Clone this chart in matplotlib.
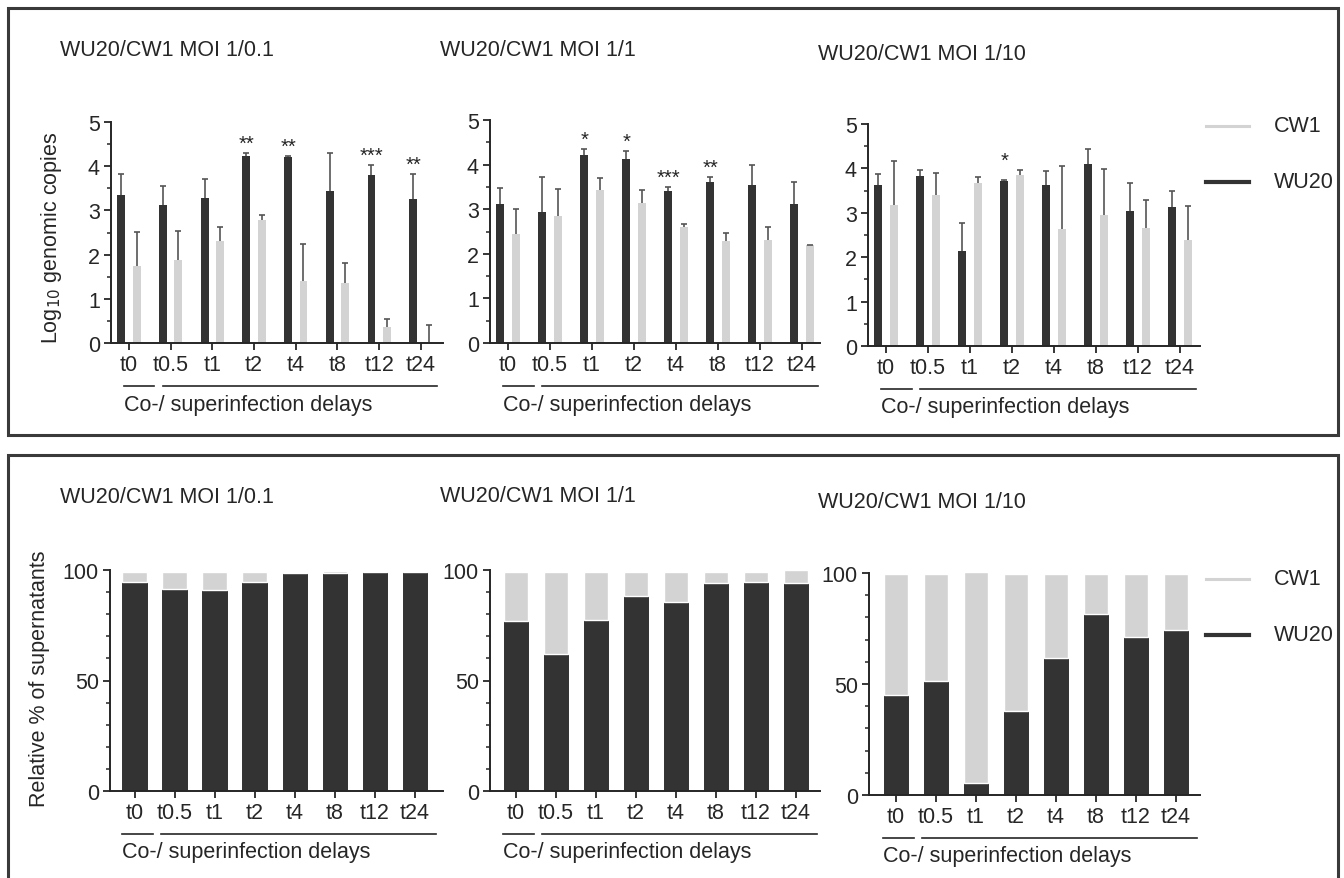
import matplotlib
matplotlib.use("Agg")
import matplotlib.pyplot as plt
import matplotlib.transforms as mtransforms
from matplotlib.lines import Line2D
from matplotlib.patches import Rectangle
from matplotlib.ticker import MultipleLocator
import numpy as np

plt.rcParams["font.family"] = ["Liberation Sans", "DejaVu Sans"]

W, H = 1344, 879
DARK = "#333333"
LIGHT = "#d3d3d3"
INK = "#262626"
FS = 15.5

DELAYS = ["t0", "t0.5", "t1", "t2", "t4", "t8", "t12", "t24"]
TITLES = ["WU20/CW1 MOI 1/0.1", "WU20/CW1 MOI 1/1", "WU20/CW1 MOI 1/10"]

# top row: log10 genomic copies, mean and upper SD
WU20_LOG_01 = [3.35, 3.12, 3.28, 4.23, 4.20, 3.44, 3.79, 3.26]
WU20_SD_01 = [0.47, 0.43, 0.44, 0.07, 0.04, 0.86, 0.23, 0.57]
CW1_LOG_01 = [1.75, 1.88, 2.30, 2.78, 1.40, 1.35, 0.37, 0.03]
CW1_SD_01 = [0.77, 0.65, 0.33, 0.12, 0.83, 0.45, 0.18, 0.37]
STARS_01 = ["", "", "", "**", "**", "", "***", "**"]

WU20_LOG_1 = [3.12, 2.93, 4.22, 4.13, 3.41, 3.62, 3.54, 3.12]
WU20_SD_1 = [0.35, 0.79, 0.13, 0.18, 0.08, 0.10, 0.46, 0.48]
CW1_LOG_1 = [2.45, 2.84, 3.44, 3.14, 2.61, 2.28, 2.30, 2.19]
CW1_SD_1 = [0.55, 0.62, 0.25, 0.30, 0.05, 0.19, 0.30, 0.01]
STARS_1 = ["", "", "*", "*", "***", "**", "", ""]

WU20_LOG_10 = [3.62, 3.84, 2.15, 3.72, 3.62, 4.09, 3.05, 3.14]
WU20_SD_10 = [0.26, 0.13, 0.62, 0.02, 0.32, 0.34, 0.63, 0.35]
CW1_LOG_10 = [3.17, 3.39, 3.68, 3.86, 2.64, 2.95, 2.65, 2.38]
CW1_SD_10 = [1.00, 0.51, 0.13, 0.11, 1.41, 1.04, 0.64, 0.78]
STARS_10 = ["", "", "", "*", "", "", "", ""]

# bottom row: relative % of supernatants
PCT_WU20_01 = [94.6, 91.6, 90.8, 94.6, 98.5, 98.5, 99.1, 99.1]
PCT_CW1_01 = [4.5, 7.5, 8.3, 4.5, 0.5, 1.2, 0.3, 0.3]
PCT_WU20_1 = [76.7, 62.0, 77.4, 88.3, 85.3, 94.1, 94.7, 94.1]
PCT_CW1_1 = [22.4, 37.1, 21.7, 10.8, 13.8, 5.0, 4.4, 5.7]
PCT_WU20_10 = [45.2, 51.5, 5.4, 37.7, 61.9, 81.5, 71.2, 74.5]
PCT_CW1_10 = [54.2, 47.9, 94.9, 61.7, 37.5, 17.9, 28.2, 24.9]

TOP = [(WU20_LOG_01, WU20_SD_01, CW1_LOG_01, CW1_SD_01, STARS_01),
       (WU20_LOG_1, WU20_SD_1, CW1_LOG_1, CW1_SD_1, STARS_1),
       (WU20_LOG_10, WU20_SD_10, CW1_LOG_10, CW1_SD_10, STARS_10)]
BOTTOM = [(PCT_WU20_01, PCT_CW1_01), (PCT_WU20_1, PCT_CW1_1),
          (PCT_WU20_10, PCT_CW1_10)]

# layout in pixels: (left, top, right, bottom), xlim
TOP_BOXES = [((111, 123, 443, 344), (-0.43, 7.53)),
             ((490, 121, 820, 344), (-0.43, 7.43)),
             ((868, 125, 1200, 347), (-0.43, 7.48))]
BOT_BOXES = [((110, 571, 443, 792), (-0.62, 7.70)),
             ((490, 571, 820, 792), (-0.65, 7.60)),
             ((869, 574, 1200, 796), (-0.675, 7.60))]
TOP_TITLES_XY = [(60, 50), (440, 50), (818, 55)]
BOT_TITLES_XY = [(60, 498), (440, 497), (818, 503)]


def fx(x):
    return x / W


def fy(y):
    return 1 - y / H


fig = plt.figure(figsize=(W / 100, H / 100), dpi=100)

# panel frames
for (x0, y0, x1, y1) in [(8, 9, 1338, 436), (8, 456, 1338, 900)]:
    fig.add_artist(Rectangle((fx(x0), fy(y1)), fx(x1 - x0), (y1 - y0) / H,
                             transform=fig.transFigure, fill=False,
                             edgecolor="#3a3a3a", linewidth=2.2))


def style_axes(ax):
    for s in ["top", "right"]:
        ax.spines[s].set_visible(False)
    for s in ["left", "bottom"]:
        ax.spines[s].set_color(INK)
        ax.spines[s].set_linewidth(1.4)
    ax.set_xticks(range(len(DELAYS)))
    ax.set_xticklabels(DELAYS)
    ax.tick_params(axis="x", length=5, width=1.3, color=INK, labelsize=FS,
                   pad=3, labelcolor=INK)
    ax.tick_params(axis="y", which="major", length=5, width=1.3, color=INK,
                   labelsize=FS, pad=3, labelcolor=INK)
    ax.tick_params(axis="y", which="minor", length=3, width=1.1, color=INK)


def add_delay_labels(ax, short, long):
    line_tr = mtransforms.offset_copy(ax.get_xaxis_transform(), fig=fig,
                                      y=-43, units="dots")
    ax.plot(short, [0, 0], color=INK, lw=1.2, transform=line_tr, clip_on=False)
    ax.plot(long, [0, 0], color=INK, lw=1.2, transform=line_tr, clip_on=False)
    text_tr = mtransforms.offset_copy(ax.get_xaxis_transform(), fig=fig,
                                      y=-61, units="dots")
    ax.text(short[0], 0, "Co-/ superinfection delays", transform=text_tr,
            ha="left", va="center", fontsize=FS, color=INK)


def make_axes(box):
    (x0, y0, x1, y1), xlim = box
    ax = fig.add_axes([fx(x0), fy(y1), fx(x1 - x0), (y1 - y0) / H])
    ax.set_xlim(*xlim)
    return ax


x = np.arange(len(DELAYS))
off, bw = 0.185, 0.19

for k, (box, data) in enumerate(zip(TOP_BOXES, TOP)):
    wu, wu_sd, cw, cw_sd, stars = data
    ax = make_axes(box)
    ax.bar(x - off, wu, bw, color=DARK, zorder=2)
    ax.bar(x + off, cw, bw, color=LIGHT, zorder=2)
    for xs, m, sd in [(x - off, wu, wu_sd), (x + off, cw, cw_sd)]:
        eb = ax.errorbar(xs, m, yerr=[np.zeros(len(m)), sd], fmt="none",
                         ecolor="#555555", elinewidth=1.2, capsize=2.3,
                         capthick=1.2, zorder=3)
        eb[1][0].set_visible(False)
    tops = np.maximum(np.add(wu, wu_sd), np.add(cw, cw_sd))
    for i, s in enumerate(stars):
        if s:
            ax.annotate(s, (x[i] - off, tops[i]), xytext=(0, 3),
                        textcoords="offset points", ha="center", va="baseline",
                        fontsize=FS - 1, color=INK)
    ax.set_ylim(0, 5)
    ax.yaxis.set_major_locator(MultipleLocator(1))
    ax.yaxis.set_minor_locator(MultipleLocator(0.5))
    style_axes(ax)
    add_delay_labels(ax, (-0.12, 0.61), (0.81, 7.39))
    tx, ty = TOP_TITLES_XY[k]
    fig.text(fx(tx), fy(ty), TITLES[k], ha="left", va="center", fontsize=FS,
             color=INK)

for k, (box, data) in enumerate(zip(BOT_BOXES, BOTTOM)):
    wu, cw = data
    ax = make_axes(box)
    ax.bar(x, wu, 0.62, color=DARK, edgecolor="#222222", linewidth=0.6, zorder=2)
    ax.bar(x, cw, 0.62, bottom=wu, color=LIGHT, edgecolor="white",
           linewidth=1.0, zorder=2)
    ax.set_ylim(0, 100)
    ax.yaxis.set_major_locator(MultipleLocator(50))
    ax.yaxis.set_minor_locator(MultipleLocator(10))
    style_axes(ax)
    add_delay_labels(ax, (-0.32, 0.45), (0.65, 7.52))
    tx, ty = BOT_TITLES_XY[k]
    fig.text(fx(tx), fy(ty), TITLES[k], ha="left", va="center", fontsize=FS,
             color=INK)

# y axis titles
fig.text(fx(52), fy(238), r"Log$_{10}$ genomic copies", rotation=90,
         ha="center", va="center", fontsize=FS, color=INK)
fig.text(fx(40), fy(679), "Relative % of supernatants", rotation=90,
         ha="center", va="center", fontsize=FS, color=INK)

# legends
for (y_cw, y_wu) in [(127, 183), (580, 636)]:
    for yy, col, lw, lab in [(y_cw, LIGHT, 2.2, "CW1"), (y_wu, DARK, 3, "WU20")]:
        fig.add_artist(Line2D([fx(1206), fx(1249)], [fy(yy), fy(yy)],
                              transform=fig.transFigure, color=col, lw=lw))
        fig.text(fx(1274), fy(yy), lab, ha="left", va="center", fontsize=FS,
                 color=INK)

fig.savefig("out.png", dpi=100, facecolor="white")
